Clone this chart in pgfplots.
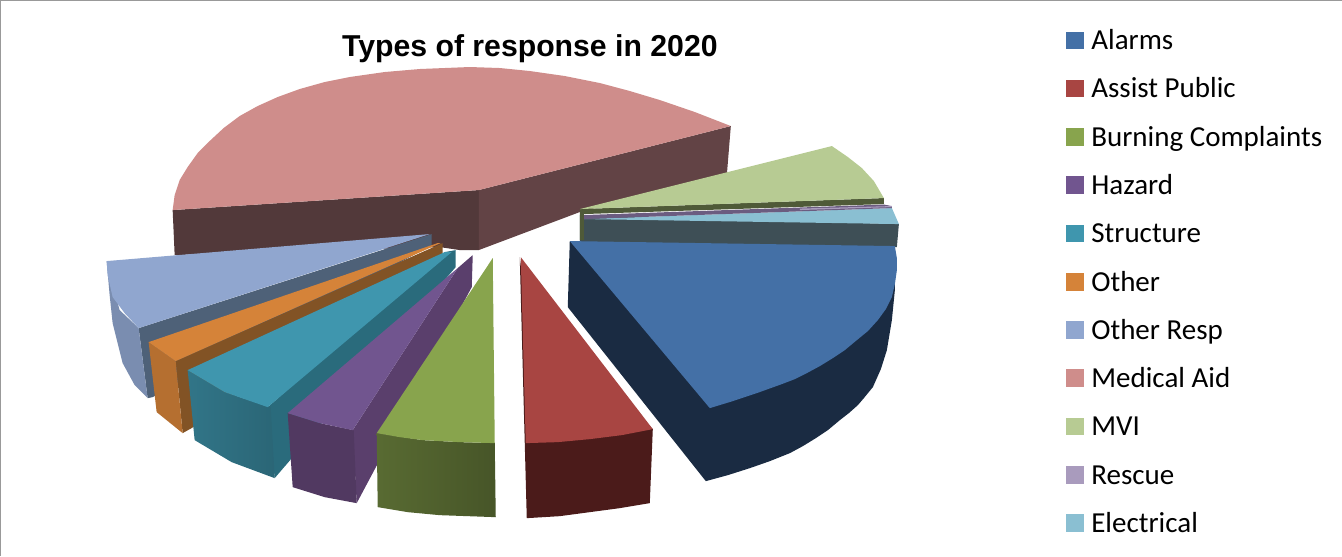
\documentclass[border=0pt]{standalone}
\usepackage{fontspec}
\setmainfont{Carlito}
\newfontfamily\titlefont{Liberation Sans}
\usepackage{pgfplots}
\pgfplotsset{compat=1.18}
\definecolor{alarmstop}{HTML}{4470A6}
\definecolor{alarmsside}{HTML}{1A2B42}
\definecolor{assisttop}{HTML}{A84542}
\definecolor{assistside}{HTML}{4B1B1A}
\definecolor{burntop}{HTML}{88A44D}
\definecolor{hazardtop}{HTML}{71558F}
\definecolor{hazardside}{HTML}{5A3F6C}
\definecolor{structtop}{HTML}{3F96AE}
\definecolor{structside}{HTML}{2A6B7C}
\definecolor{othertop}{HTML}{D58339}
\definecolor{otherside}{HTML}{825325}
\definecolor{othertopb}{HTML}{90A6CF}
\definecolor{othersideb}{HTML}{4E6178}
\definecolor{medtop}{HTML}{CF8D8B}
\definecolor{medleft}{HTML}{52393A}
\definecolor{medright}{HTML}{624345}
\definecolor{mvitop}{HTML}{B7CB93}
\definecolor{mviside}{HTML}{4F5A38}
\definecolor{rescuetop}{HTML}{A99BBD}
\definecolor{rescueside}{HTML}{6B5C80}
\definecolor{elecside}{HTML}{3E4F56}
\definecolor{electop}{HTML}{8ABFD2}
\pgfplotsset{face/.style={draw=none,no markers,forget plot}}
\newcommand{\legendrow}[3]{\addplot[only marks,mark=square*,mark size=4.1pt,mark options={draw=#3,fill=#3,line width=0pt},forget plot] coordinates {(1075,#1)};
  \node[anchor=base west,inner sep=0pt,font=\fontsize{14.5}{16}\selectfont] at (axis cs:1091,#1+9.3) {#2};}
\begin{document}
\begin{tikzpicture}
\begin{axis}[
    scale only axis,
    width=671pt,
    height=278pt,
    xmin=0,xmax=1342,
    ymin=0,ymax=556,
    y dir=reverse,
    hide axis,
  ]
% frame
\addplot[color=gray!80,line width=0.6pt,forget plot] coordinates {(1,556) (1,0.6) (1342,0.6)};

% Medical Aid
\addplot[face,fill=medleft] coordinates {(173,210) (479,190) (479,250) (460,250) (440,247) (175,255)};
\addplot[face,fill=medright] coordinates {(479,190) (731,126) (727,175) (580,212) (479,250)};
\addplot[face,fill=medtop] coordinates {(173,210) (175,195) (180,180) (188,167) (198,153) (210,141) (224,128) (240,116) (258,106) (278,97) (300,89) (325,82) (350,77) (385,72) (420,69) (445,68) (470,67) (500,68) (530,71) (565,76) (600,83) (630,91) (660,100) (695,112) (731,126) (479,190)};

% Electrical, Rescue, MVI
\addplot[face,fill=elecside] coordinates {(580,215) (899,224) (897,247) (580,242)};
\addplot[face,fill=electop] coordinates {(584,219) (892,208) (899,224)};
\addplot[face,fill=rescueside] coordinates {(584,215) (884,204.5) (892,206) (892,208) (584,219)};
\addplot[face,fill=rescuetop] coordinates {(800,208.5) (892,206) (892,207) (800,210)};
\addplot[face,fill=mviside] coordinates {(580,209) (884,198) (884,204) (584,214) (584,240) (580,240)};
\addplot[face,fill=mvitop] coordinates {(580,209) (832,146) (848,157) (862,168) (874,181) (884,198)};

% Alarms
\addplot[face,fill=alarmsside] coordinates {(570,241) (895,270) (895,290) (892,320) (887,350) (881,369) (873,387) (864,398) (858,405) (849,413) (840,420) (828,430) (816,438) (803,446) (790,453) (770,461) (750,468) (728,475) (706,481) (568,307)};
\addplot[face,fill=alarmstop] coordinates {(570,241) (895,246) (897,258) (897,270) (895,284) (892,297) (886,309) (878,320) (868,331) (857,340) (845,350) (833,358) (820,366) (807,373) (795,379) (782,384) (757,393) (733,401) (710,408)};

% Other Resp
\addplot[face,fill=othersideb] coordinates {(432,234) (432,245) (153,397) (148,398) (139,328)};
\addplot[face,fill=othertopb!85!black] coordinates {(107,261) (110,295) (113,323) (123,363) (135,385) (148,398) (139,328) (120,310)};
\addplot[face,fill=othertopb] coordinates {(107,261) (430,234) (139,328) (125,313) (113,297) (108,275)};

% Other
\addplot[face,fill=otherside] coordinates {(443,243) (443,253) (192,428) (183,433) (176,361)};
\addplot[face,fill=othertop!85!black] coordinates {(149,342) (157,412) (183,433) (176,361)};
\addplot[face,fill=othertop] coordinates {(149,342) (176,361) (441,243) (438,243)};

% Structure
\addplot[face,fill=structside] coordinates {(456,250) (456,267) (275,478) (268,407) (445,252)};
\addplot[draw=none,forget plot,left color=structtop!78!black,right color=structtop!68!black] coordinates {(188,370) (195,440) (232,462) (275,478) (271,407) (225,392)};
\addplot[face,fill=structtop] coordinates {(188,370) (225,392) (268,407) (452,252) (445,252)};

% Hazard
\addplot[face,fill=hazardside] coordinates {(473,255) (472,287) (357,503) (353,430) (458,268)};
\addplot[face,fill=hazardside!90!black] coordinates {(288,413) (293,487) (325,497) (357,503) (354,430) (320,423)};
\addplot[face,fill=hazardtop] coordinates {(458,268) (288,413) (320,423) (353,430)};

% Burning Complaints
\addplot[draw=none,forget plot,left color=burntop!65!black,right color=burntop!52!black] coordinates {(377,433) (378,507) (408,512) (440,515) (468,516) (496,517) (495,443) (460,442) (423,440)};
\addplot[face,fill=burntop] coordinates {(493,258) (495,443) (460,442) (423,440) (400,437) (377,433)};

% Assist Public
\addplot[face,fill=assistside] coordinates {(520,257) (525,443) (527,518) (560,516) (590,512) (620,508) (650,503) (653,429) (525,300)};
\addplot[face,fill=assisttop] coordinates {(521,257) (653,429) (622,435) (590,439) (558,442) (526,443)};

% title
\node[anchor=base west,inner sep=0pt,font=\titlefont\bfseries\fontsize{15.1}{17}\selectfont] at (axis cs:342,56.5) {Types of response in 2020};

% legend
\legendrow{40.5}{Alarms}{alarmstop}
\legendrow{88.5}{Assist Public}{assisttop}
\legendrow{137}{Burning Complaints}{burntop}
\legendrow{185}{Hazard}{hazardtop}
\legendrow{233.5}{Structure}{structtop}
\legendrow{282}{Other}{othertop}
\legendrow{330}{Other Resp}{othertopb}
\legendrow{378}{Medical Aid}{medtop}
\legendrow{426.5}{MVI}{mvitop}
\legendrow{475}{Rescue}{rescuetop}
\legendrow{523}{Electrical}{electop}
\end{axis}
\end{tikzpicture}
\end{document}
